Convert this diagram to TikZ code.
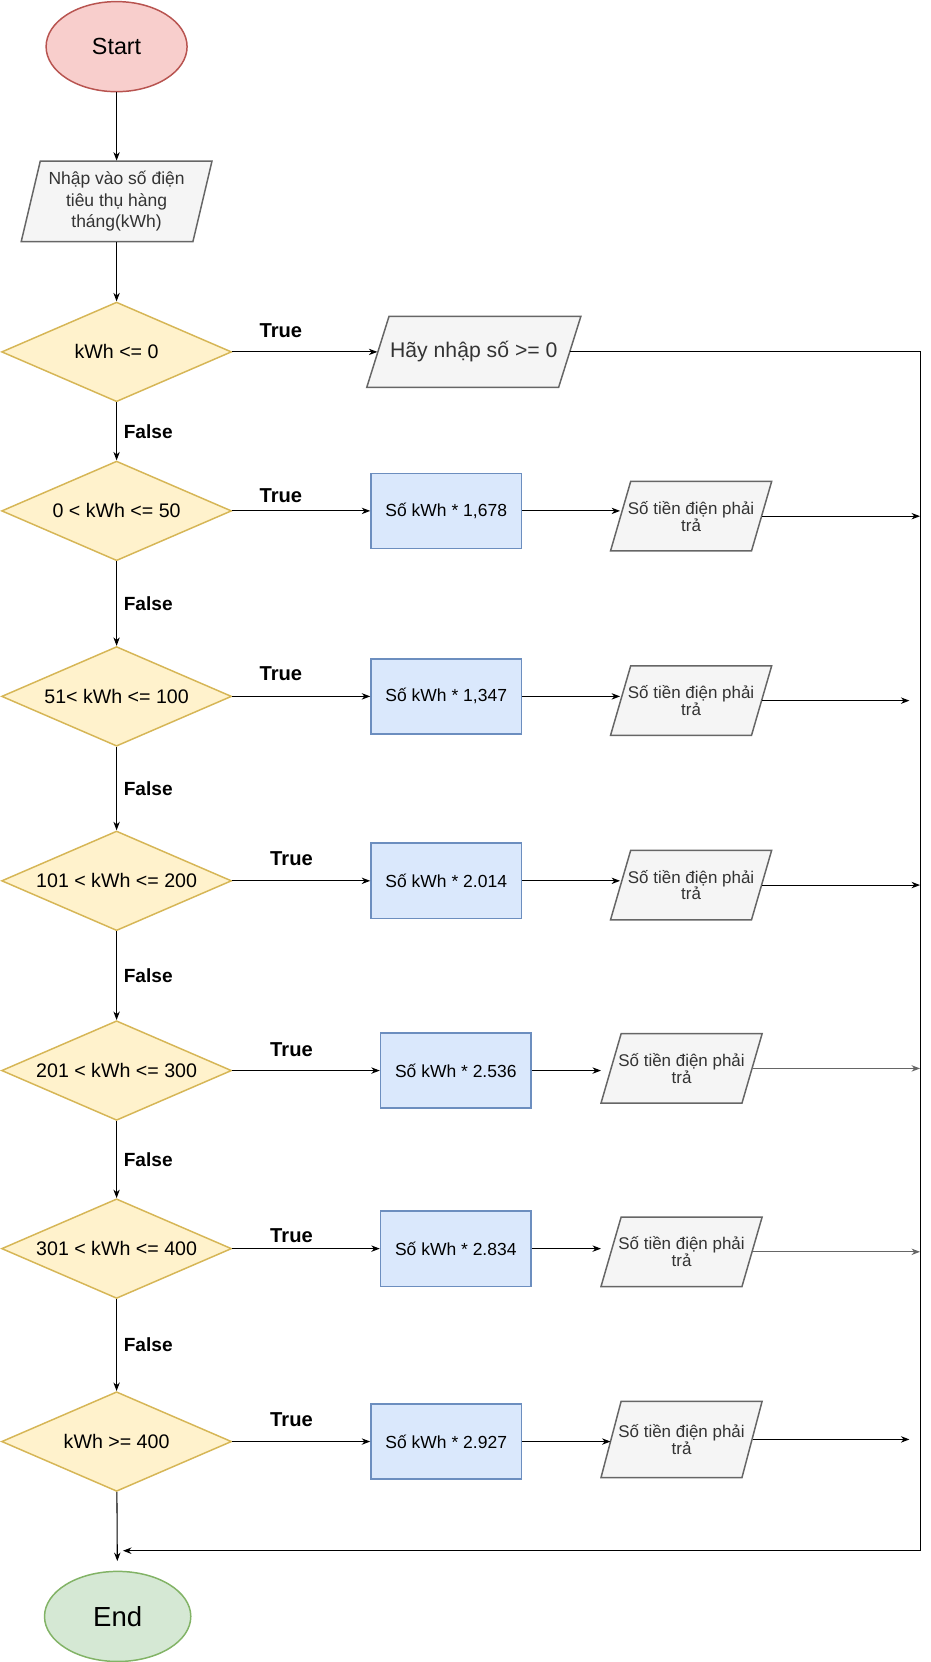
\documentclass[tikz,border=0pt]{standalone}
\usepackage{fontspec}
\setmainfont{Liberation Sans}
\usetikzlibrary{shapes.geometric,arrows.meta}
\definecolor{startfill}{HTML}{F8CECC}
\definecolor{startline}{HTML}{B85450}
\definecolor{endfill}{HTML}{D5E8D4}
\definecolor{endline}{HTML}{82B366}
\definecolor{decfill}{HTML}{FFF2CC}
\definecolor{decline}{HTML}{D6B656}
\definecolor{procfill}{HTML}{DAE8FC}
\definecolor{procline}{HTML}{6C8EBF}
\definecolor{iofill}{HTML}{F5F5F5}
\definecolor{ioline}{HTML}{666666}
\definecolor{iotext}{HTML}{333333}
\tikzstyle{terminal}=[draw,ellipse,line width=1.4pt,minimum width=133pt,minimum height=85pt,inner sep=0pt]

\begin{document}
\begin{tikzpicture}[x=1pt,y=-1pt,line width=1pt,>={Stealth[length=8pt,width=6pt,inset=2.5pt]}]
\tikzstyle{decision}=[draw=decline,fill=decfill,diamond,aspect=2.31,line width=1.4pt,minimum width=217pt,minimum height=94pt,inner sep=0pt,font=\fontsize{18.5}{21}\selectfont]
\tikzstyle{process}=[draw=procline,fill=procfill,rectangle,line width=1.4pt,minimum width=142pt,minimum height=71pt,inner sep=0pt,font=\fontsize{16.5}{19}\selectfont]
\tikzstyle{iobox}=[draw=ioline,fill=iofill,line width=1.4pt]
\tikzstyle{io}=[rectangle,inner sep=0pt,minimum width=133pt,minimum height=65pt,text=iotext,align=center,font=\fontsize{16}{15.8}\selectfont]
\tikzstyle{truelabel}=[font=\bfseries\fontsize{19}{21}\selectfont]
\tikzstyle{falselabel}=[right,xshift=3pt,font=\bfseries\fontsize{18}{20}\selectfont]
\useasboundingbox (0,0) rectangle (878,1568);
  % start and input
  \node[terminal,draw=startline,fill=startfill,font=\fontsize{22}{24}\selectfont] (start) at (110,44) {Start};
  \draw[iobox,shift={(110,190)}] (-90,38) -- (72,38) -- (90,-38) -- (-72,-38) -- cycle;
  \node[io,minimum width=162pt,minimum height=76pt,font=\fontsize{16.5}{20.4}\selectfont] (input) at (110,190) {Nhập vào số điện\\tiêu thụ hàng\\tháng(kWh)};
  % decisions
  \foreach \place/\name/\cond in {{(110,332)/d1/{kWh <= 0}},
                                  {(110,482)/d2/{0 < kWh <= 50}},
                                  {(110,657)/d3/{51< kWh <= 100}},
                                  {(110,831)/d4/{101 < kWh <= 200}},
                                  {(110,1010)/d5/{201 < kWh <= 300}},
                                  {(110,1178)/d6/{301 < kWh <= 400}},
                                  {(110,1360)/d7/{kWh >= 400}}}
    \node[decision] (\name) at \place {\cond};
  \draw[iobox,shift={(447,332)}] (-101,33.5) -- (80,33.5) -- (101,-33.5) -- (-80,-33.5) -- cycle;
  \node[io,minimum width=181pt,minimum height=67pt,font=\fontsize{20}{22}\selectfont] (ask) at (447,332) {Hãy nhập số >= 0};
  % calculations
  \foreach \place/\name/\calc in {{(421,482)/b2/{Số kWh * 1,678}},
                                  {(421,657)/b3/{Số kWh * 1,347}},
                                  {(421,831)/b4/{Số kWh * 2.014}},
                                  {(430,1010)/b5/{Số kWh * 2.536}},
                                  {(430,1178)/b6/{Số kWh * 2.834}},
                                  {(421,1360)/b7/{Số kWh * 2.927}}}
    \node[process] (\name) at \place {\calc};
  % outputs
  \foreach \place/\name/\h in {{(652,487)/o2/32.75},
                               {(652,661)/o3/32.75},
                               {(652,835)/o4/32.75},
                               {(643,1008)/o5/32.75},
                               {(643,1181)/o6/32.75},
                               {(643,1358)/o7/36}}
  {
    \draw[iobox,shift={\place}] (-76,\h) -- (57,\h) -- (76,-\h) -- (-57,-\h) -- cycle;
    \node[io] (\name) at \place {Số tiền điện phải\\trả};
  }
  \node[terminal,draw=endline,fill=endfill,minimum width=138pt,font=\fontsize{26}{28}\selectfont] (end) at (111,1525) {End};
  % right-hand collector
  \coordinate (r2) at (868,487);
  \coordinate (r3) at (858,661);
  \coordinate (r4) at (868,835);
  \coordinate (r5) at (868,1008);
  \coordinate (r6) at (868,1181);
  \coordinate (r7) at (858,1358);
  \coordinate (corner) at (868,1463);
  \coordinate (join) at (116,1463);
  % labels
  \foreach \place/\name in {{(265,312)/t1},
                            {(265,468)/t2},
                            {(265,636)/t3},
                            {(275,810)/t4},
                            {(275,990)/t5},
                            {(275,1166)/t6},
                            {(275,1339)/t7}}
    \node[truelabel] (\name) at \place {True};
  % connectors
  \draw[->] (start) -- (input);
  \draw[->] (input) -- (d1);
  \foreach \source/\dest in {d1/d2,d2/d3,d3/d4,d4/d5,d5/d6,d6/d7}
      \draw[->] (\source) -- node[falselabel] {False} (\dest);
  \draw[->] (d1) -- (ask);
  \foreach \source/\dest in {d2/b2,d3/b3,d4/b4,d5/b5,d6/b6,d7/b7}
      \draw[->] (\source) -- (\dest);
  \foreach \source/\dest in {b2/o2,b3/o3,b4/o4,b7/o7}
      \draw[->] (\source.east) -- (\source.east -| \dest.west);
  \foreach \source/\dest in {b5/o5,b6/o6}
      \draw[->,shorten >=9pt] (\source.east) -- (\source.east -| \dest.west);
  \foreach \source/\dest in {o2/r2,o3/r3,o4/r4,o7/r7}
      \draw[->] (\source.east) -- (\dest);
  \foreach \source/\dest in {o5/r5,o6/r6}
      \draw[->,draw=ioline] (\source.east) -- (\dest);
  \draw[->] (ask.east) -| (corner) -- (join);
  \draw[->,shorten >=9pt] (d7) -- (end);
\end{tikzpicture}
\end{document}
